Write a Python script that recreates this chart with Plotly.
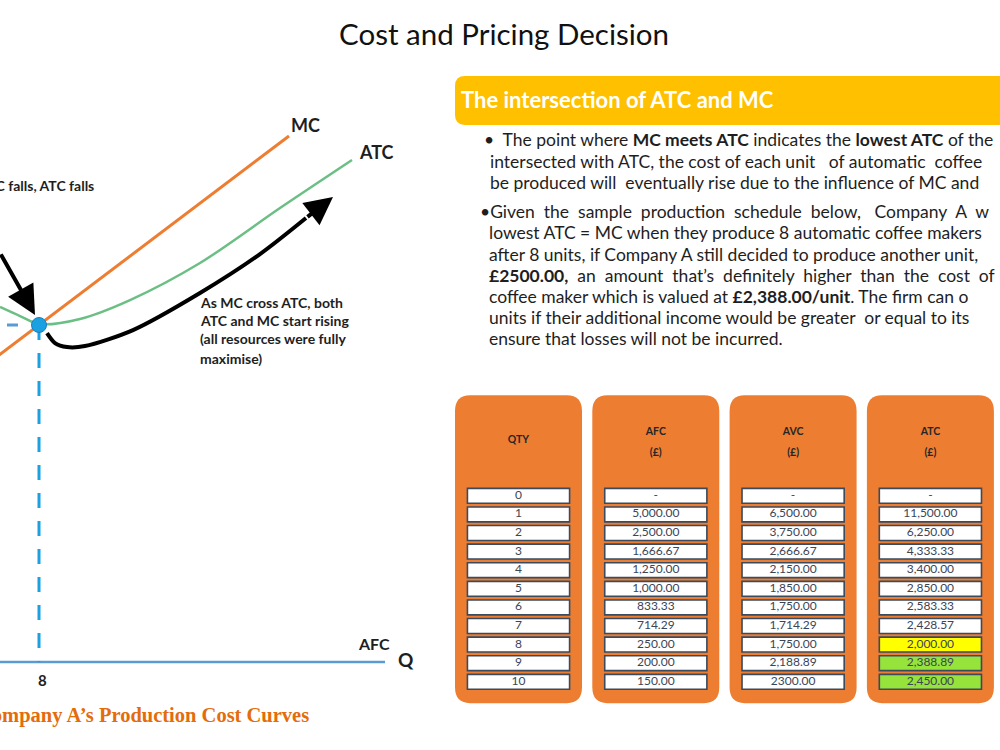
import plotly.graph_objects as go

# ---------------- data: cost curves (Q units, £) ----------------
mc_q = [6.0, 8.0, 18.0]
mc_cost = [1776, 2000, 3122]
atc_q = [6.44, 7.24, 8.0, 9.64, 11.64, 14.44, 17.64, 20.52]
atc_cost = [2107, 2053, 2006, 2036, 2148, 2368, 2694, 2979]
afc_q = [6.0, 21.84]
afc_cost = [0, 0]
eq_q = 8
eq_cost = 2000
price_axis_q = 5.6  # hidden vertical axis where the horizontal guide starts

# curved arrow showing MC and ATC rising after the intersection
rise_q = [8.32, 8.64, 9.12, 9.84, 11.76, 14.44, 16.84, 18.68]
rise_cost = [1952, 1893, 1869, 1875, 1970, 2190, 2421, 2635]
rise_tip_q, rise_tip_cost = 19.76, 2760
fall_tip_q, fall_tip_cost = 7.84, 2060

# ---------------- data: production schedule table ----------------
table_heads = ["QTY", "AFC", "AVC", "ATC"]
table_units = ["", "(£)", "(£)", "(£)"]
qty = ["0", "1", "2", "3", "4", "5", "6", "7", "8", "9", "10"]
afc = ["-", "5,000.00", "2,500.00", "1,666.67", "1,250.00", "1,000.00",
       "833.33", "714.29", "250.00", "200.00", "150.00"]
avc = ["-", "6,500.00", "3,750.00", "2,666.67", "2,150.00", "1,850.00",
       "1,750.00", "1,714.29", "1,750.00", "2,188.89", "2300.00"]
atc = ["-", "11,500.00", "6,250.00", "4,333.33", "3,400.00", "2,850.00",
       "2,583.33", "2,428.57", "2,000.00", "2,388.89", "2,450.00"]
atc_fill = ["white"] * 8 + ["#FFFF00", "#96E33C", "#96E33C"]

bullet_lines = [
    (482, 140, "•  The point where <b>MC meets ATC</b> indicates the <b>lowest ATC</b> of the"),
    (488, 161, "intersected with ATC, the cost of each unit   of automatic  coffee"),
    (488, 182, "be produced will  eventually rise due to the influence of MC and"),
    (478, 212, "•Given  the  sample  production  schedule  below,   Company  A  w"),
    (487, 233, "lowest ATC = MC when they produce 8 automatic coffee makers"),
    (487, 254, "after 8 units, if Company A still decided to produce another unit,"),
    (487, 275, "<b>£2500.00,</b>  an  amount  that’s  definitely  higher  than  the  cost  of"),
    (487, 296, "coffee maker which is valued at <b>£2,388.00/unit</b>. The firm can o"),
    (487, 317, "units if their additional income would be greater  or equal to its"),
    (487, 338, "ensure that losses will not be incurred."),
]

FONT = "Lato"
DARK = "#1e1e1e"
ORANGE = "#ED7D31"


def px(x):
    return x / 1000.0


def py(y):
    return 1 - y / 750.0


def rrect(x0, y0, x1, y1, rx, ry):
    return (f"M {x0+rx},{y0} L {x1-rx},{y0} Q {x1},{y0} {x1},{y0+ry} "
            f"L {x1},{y1-ry} Q {x1},{y1} {x1-rx},{y1} L {x0+rx},{y1} "
            f"Q {x0},{y1} {x0},{y1-ry} L {x0},{y0+ry} Q {x0},{y0} {x0+rx},{y0} Z")


fig = go.Figure()

# ---- cost curves ----
fig.add_trace(go.Scatter(x=afc_q, y=afc_cost, mode="lines",
                         line=dict(color="#5B9BD5", width=2.5), name="AFC"))
fig.add_trace(go.Scatter(x=mc_q, y=mc_cost, mode="lines",
                         line=dict(color=ORANGE, width=3), name="MC"))
fig.add_trace(go.Scatter(x=atc_q, y=atc_cost, mode="lines",
                         line=dict(color="#6CBF84", width=2.5, shape="spline", smoothing=0.9),
                         name="ATC"))
fig.add_trace(go.Scatter(x=[eq_q, eq_q], y=[eq_cost, 0], mode="lines",
                         line=dict(color="#1BA1E2", width=3, dash="15px,13px")))
fig.add_trace(go.Scatter(x=[price_axis_q, eq_q], y=[eq_cost, eq_cost], mode="lines",
                         line=dict(color="#5B9BD5", width=3, dash="11px,17px")))
fig.add_trace(go.Scatter(x=rise_q, y=rise_cost, mode="lines",
                         line=dict(color="black", width=4, shape="spline", smoothing=0.8)))
fig.add_trace(go.Scatter(x=[eq_q], y=[eq_cost], mode="markers",
                         marker=dict(size=15, color="#1BA1E2",
                                     line=dict(color="#1580C0", width=1))))

# ---- table ----
n_rows = len(qty)
columns = [qty, afc, avc, atc]
shapes = []
col_half_w = 127 / 137.3 / 2
for i in range(4):
    shapes.append(dict(type="path", xref="x2", yref="y2",
                       path=rrect(i - col_half_w, -5.41, i + col_half_w, 11.15, 0.11, 0.85),
                       fillcolor=ORANGE, line=dict(width=0), layer="below"))
    for r in range(n_rows):
        fill = atc_fill[r] if i == 3 else "white"
        shapes.append(dict(type="rect", xref="x2", yref="y2",
                           x0=i - 0.372, x1=i + 0.372, y0=r - 0.40, y1=r + 0.40,
                           fillcolor=fill, line=dict(color="#3b4a5c", width=1.6),
                           layer="below"))
    fig.add_trace(go.Scatter(x=[i] * n_rows, y=list(range(n_rows)), text=columns[i],
                             mode="text", xaxis="x2", yaxis="y2",
                             textfont=dict(family=FONT, size=12, color="#3a4556")))

head_x, head_y, head_t = [], [], []
for i in range(4):
    if table_units[i]:
        head_x += [i, i]
        head_y += [-3.43, -2.30]
        head_t += [f"<b>{table_heads[i]}</b>", f"<b>{table_units[i]}</b>"]
    else:
        head_x.append(i)
        head_y.append(-3.0)
        head_t.append(f"<b>{table_heads[i]}</b>")
fig.add_trace(go.Scatter(x=head_x, y=head_y, text=head_t, mode="text",
                         xaxis="x2", yaxis="y2",
                         textfont=dict(family=FONT, size=10.5, color="#262626")))

# header box
shapes.append(dict(type="path", xref="paper", yref="paper",
                   path=rrect(px(455), py(76), px(1060), py(125), 0.010, -0.0133),
                   fillcolor="#FFC000", line=dict(width=0), layer="below"))

annotations = []


def txt(x, y, t, size, color=DARK, anchor="left", family=FONT):
    annotations.append(dict(x=px(x), y=py(y), xref="paper", yref="paper", text=t,
                            showarrow=False, xanchor=anchor, yanchor="middle",
                            font=dict(family=family, size=size, color=color)))


txt(504, 33, "Cost and Pricing Decision", 29.5, "#111111", "center")
txt(459, 100, "<b>The intersection of ATC and MC</b>", 22, "white")
for x, y, t in bullet_lines:
    txt(x, y, t, 17.5, DARK)

txt(96, 185, "<b>As MC falls, ATC falls</b>", 14, DARK, "right")
txt(289, 125, "<b>MC</b>", 18, DARK)
txt(357, 152, "<b>ATC</b>", 18, DARK)
txt(198, 302, "<b>As MC cross ATC, both</b>", 14, DARK)
txt(198, 321, "<b>ATC and MC start rising</b>", 14, DARK)
txt(198, 339, "<b>(all resources were fully</b>", 14, DARK)
txt(198, 358, "<b>maximise)</b>", 14, DARK)
txt(356, 643, "<b>AFC</b>", 16, DARK)
txt(396, 659, "<b>Q</b>", 19, DARK)
txt(42, 680, "<b>8</b>", 15, DARK, "center")
txt(311, 715, "<b>Company A’s Production Cost Curves</b>", 20.5, "#E46C0A", "right",
    "Liberation Serif")

# arrowheads
annotations.append(dict(x=rise_tip_q, y=rise_tip_cost, xref="x", yref="y",
                        ax=rise_q[-1], ay=rise_cost[-1], axref="x", ayref="y",
                        showarrow=True, arrowhead=2, arrowwidth=4, arrowsize=1.4,
                        arrowcolor="black", text=""))
annotations.append(dict(x=fall_tip_q, y=fall_tip_cost, xref="x", yref="y",
                        ax=-70, ay=-62, showarrow=True, arrowhead=2, arrowwidth=4,
                        arrowsize=1.45, arrowcolor="black", text=""))

fig.update_layout(
    width=1000, height=750, autosize=False,
    margin=dict(l=0, r=0, t=0, b=0),
    paper_bgcolor="white", plot_bgcolor="rgba(0,0,0,0)",
    showlegend=False,
    xaxis=dict(domain=[0, 1], range=[6.44, 46.44], visible=False, fixedrange=True),
    yaxis=dict(domain=[0, 1], range=[-522.3, 3928.8], visible=False, fixedrange=True),
    xaxis2=dict(overlaying="x", anchor="y2", range=[-3.7764, 3.5069], visible=False),
    yaxis2=dict(overlaying="y", anchor="x2", range=[13.667, -26.656], visible=False),
    shapes=shapes, annotations=annotations,
)

fig.write_html("out.html")
